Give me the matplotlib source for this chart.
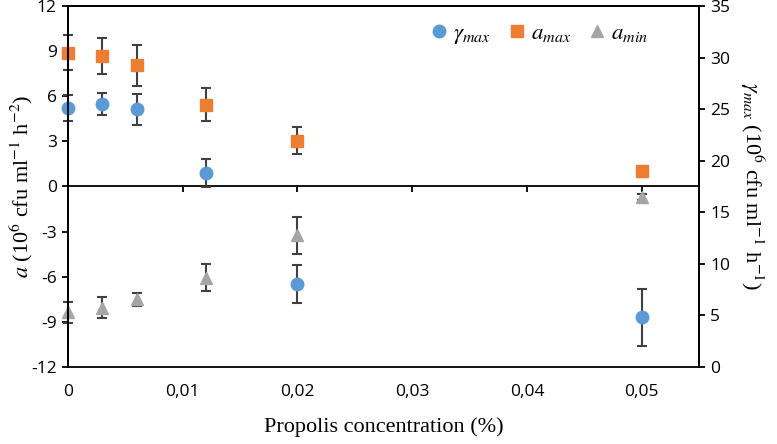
import matplotlib
matplotlib.use("Agg")
import matplotlib.pyplot as plt
from matplotlib.ticker import FuncFormatter, MultipleLocator

# data
conc = [0, 0.003, 0.006, 0.012, 0.02, 0.05]

gamma_max = [25.1, 25.5, 25.0, 18.85, 8.05, 4.8]
gamma_err = [1.25, 1.1, 1.5, 1.35, 1.85, 2.8]

a_max = [8.9, 8.65, 8.05, 5.45, 3.05, 1.0]
a_max_err = [1.15, 1.2, 1.35, 1.1, 0.9, 0.2]

a_min = [-8.35, -8.05, -7.5, -6.05, -3.25, -0.7]
a_min_err = [0.7, 0.7, 0.45, 0.9, 1.25, 0.2]

plt.rcParams['axes.unicode_minus'] = False
plt.rcParams['mathtext.fontset'] = 'stix'

blue = '#5B9BD5'
orange = '#ED7D31'
grey = '#A5A5A5'
ecol = '#404040'

fig = plt.figure(figsize=(7.77, 4.44), dpi=100)
ax = fig.add_axes([68/777, 77/444, 631/777, 361/444])
ax2 = ax.twinx()

eb_kw = dict(markersize=9, ecolor=ecol, elinewidth=1.5, capsize=3.5, capthick=1.5)
c1 = ax.errorbar(conc, a_min, yerr=a_min_err, fmt='^', color=grey, label=r'$a_{min}$', **eb_kw)
c2 = ax.errorbar(conc, a_max, yerr=a_max_err, fmt='s', color=orange, label=r'$a_{max}$', **eb_kw)
c3 = ax2.errorbar(conc, gamma_max, yerr=gamma_err, fmt='o', color=blue, label=r'$\gamma_{max}$', **eb_kw)
for c in (c1, c2, c3):
    for art in c.get_children():
        art.set_clip_on(False)

ax.set_xlim(0, 0.055)
ax.set_ylim(-12, 12)
ax2.set_ylim(0, 35)
ax.yaxis.set_major_locator(MultipleLocator(3))
ax2.yaxis.set_major_locator(MultipleLocator(5))
ax.xaxis.set_major_locator(MultipleLocator(0.01))

# middle axis line at a = 0 with tick marks, labels at the bottom frame
ax.spines['bottom'].set_position(('data', 0))
ax.tick_params(axis='x', direction='out', length=4, width=1.3, labelbottom=False)
ax2.xaxis.set_visible(True)
ax2.tick_params(axis='x', length=0, pad=12, labelsize=12.5)
fmt = FuncFormatter(lambda v, p: ('%g' % round(v, 4)).replace('.', ','))
ax2.xaxis.set_major_formatter(fmt)

for a in (ax, ax2):
    for s in a.spines.values():
        s.set_linewidth(1.3)

ax.tick_params(axis='y', direction='out', length=4, width=1.3, labelsize=12.5, pad=4)
ax2.tick_params(axis='y', direction='out', length=4, width=1.3, labelsize=12.5, pad=4)
for lab in ax.get_yticklabels() + ax2.get_yticklabels() + ax2.get_xticklabels():
    lab.set_fontfamily('Open Sans')

serif = 'Liberation Serif'
ax.set_ylabel(r'$\mathit{a}$ (10$^{6}$ cfu ml$^{-1}$ h$^{-2}$)', fontsize=16, family=serif)
ax.yaxis.set_label_coords(-0.052, 0.5)
ax2.set_ylabel(r'$\gamma_{max}$ (10$^{6}$ cfu ml$^{-1}$ h$^{-1}$)', fontsize=16,
               family=serif, rotation=270, va='center')
ax2.yaxis.set_label_coords(1.084, 0.5)
ax2.set_xlabel('Propolis concentration (%)', fontsize=16, family=serif, labelpad=13)

h1, l1 = ax.get_legend_handles_labels()
h2, l2 = ax2.get_legend_handles_labels()
handles = [h2[0][0], h1[1][0], h1[0][0]]
labels = [l2[0], l1[1], l1[0]]
ax2.legend(handles, labels, loc='upper right', bbox_to_anchor=(0.952, 1.015), ncol=3,
           frameon=False, fontsize=16.5, handletextpad=0.05, columnspacing=0.6,
           handlelength=1.1)

fig.savefig('out.png', dpi=100)
